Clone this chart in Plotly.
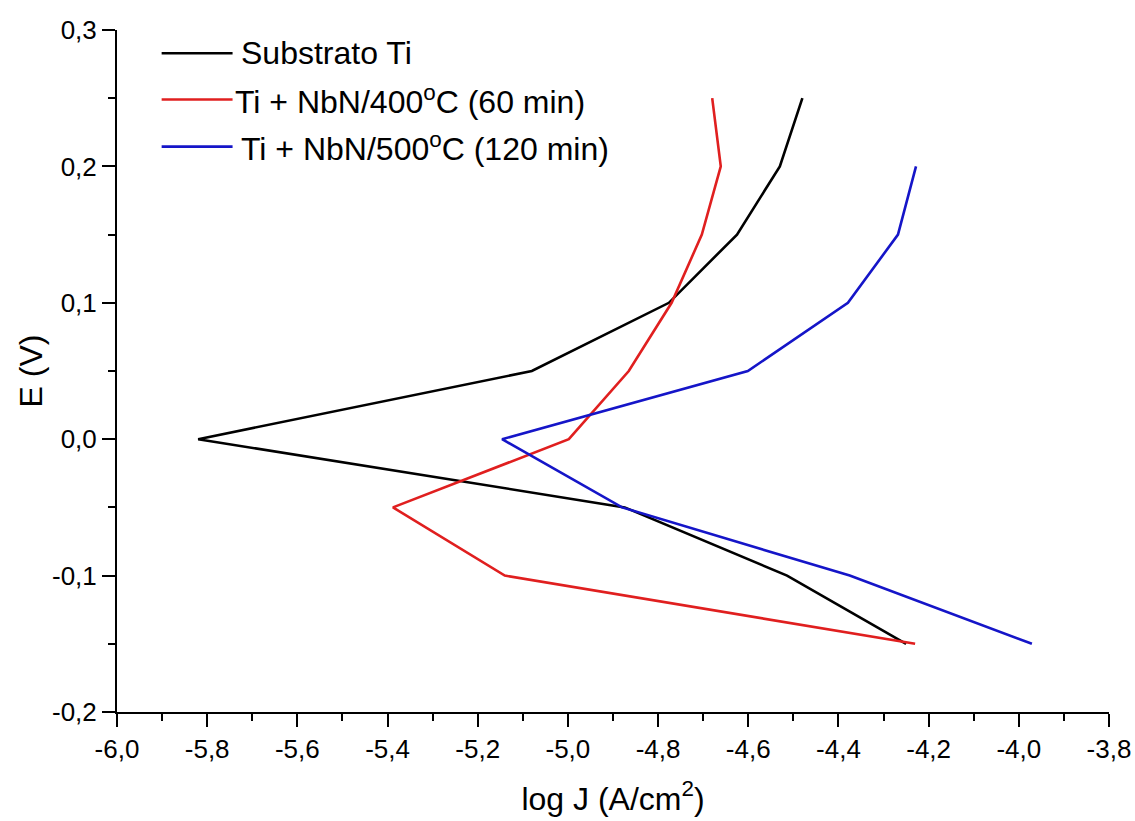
import plotly.graph_objects as go

# ---- data ----
E_ti = [0.25, 0.20, 0.15, 0.10, 0.05, 0.00, -0.05, -0.10, -0.15]
logJ_ti = [-4.48, -4.53, -4.625, -4.776, -5.08, -5.82, -4.874, -4.514, -4.25]

E_400 = [0.25, 0.20, 0.15, 0.10, 0.05, 0.00, -0.05, -0.10, -0.15]
logJ_400 = [-4.68, -4.661, -4.703, -4.77, -4.865, -4.998, -5.388, -5.14, -4.23]

E_500 = [0.20, 0.15, 0.10, 0.05, 0.00, -0.05, -0.10, -0.15]
logJ_500 = [-4.228, -4.268, -4.379, -4.601, -5.146, -4.88, -4.375, -3.971]

series_names = ["Substrato Ti",
                "Ti + NbN/400<sup>o</sup>C (60 min)",
                "Ti + NbN/500<sup>o</sup>C (120 min)"]
series_colors = ["#000000", "#e01f1f", "#1515c8"]

x_ticks = [-6.0, -5.8, -5.6, -5.4, -5.2, -5.0, -4.8, -4.6, -4.4, -4.2, -4.0, -3.8]
y_ticks = [-0.2, -0.1, 0.0, 0.1, 0.2, 0.3]
x_minor = [-5.9, -5.7, -5.5, -5.3, -5.1, -4.9, -4.7, -4.5, -4.3, -4.1, -3.9]
y_minor = [-0.15, -0.05, 0.05, 0.15, 0.25]

def lab(v):
    return f"{v:.1f}".replace(".", ",").replace("-0,0", "0,0")

FONT = "Liberation Sans, Arial, sans-serif"

fig = go.Figure()
for xs, ys, nm, col in [(logJ_ti, E_ti, series_names[0], series_colors[0]),
                        (logJ_400, E_400, series_names[1], series_colors[1]),
                        (logJ_500, E_500, series_names[2], series_colors[2])]:
    fig.add_trace(go.Scatter(x=xs, y=ys, mode="lines", name=nm,
                             line=dict(color=col, width=2.6), showlegend=False))

# custom legend (long line samples like the original)
leg_rows_y = [0.966, 0.898, 0.829]
leg_text_x = [0.1225, 0.1165, 0.1225]
for i in range(3):
    fig.add_shape(type="line", xref="paper", yref="paper",
                  x0=0.045, x1=0.1165, y0=leg_rows_y[i], y1=leg_rows_y[i],
                  line=dict(color=series_colors[i], width=2.6))
    fig.add_annotation(xref="paper", yref="paper", x=leg_text_x[i], y=leg_rows_y[i],
                       xanchor="left", yanchor="middle", showarrow=False,
                       text=series_names[i],
                       font=dict(family=FONT, size=32, color="#000"))

axis_common = dict(showline=True, linewidth=2, linecolor="#000", ticks="outside",
                   ticklen=13, tickwidth=2, tickcolor="#000", showgrid=False,
                   zeroline=False, mirror=False,
                   tickfont=dict(family=FONT, size=26, color="#000"))

fig.update_xaxes(range=[-6.0, -3.8], tickmode="array", tickvals=x_ticks,
                 ticktext=[lab(v) for v in x_ticks],
                 minor=dict(tickvals=x_minor, ticklen=7, tickwidth=2, tickcolor="#000", ticks="outside"),
                 title=dict(text="log J (A/cm<sup>2</sup>)", font=dict(family=FONT, size=32, color="#000"),
                            standoff=24),
                 **axis_common)
fig.update_yaxes(range=[-0.2, 0.3], tickmode="array", tickvals=y_ticks,
                 ticktext=[lab(v) for v in y_ticks],
                 minor=dict(tickvals=y_minor, ticklen=7, tickwidth=2, tickcolor="#000", ticks="outside"),
                 title=dict(text="E (V)", font=dict(family=FONT, size=32, color="#000"),
                            standoff=0),
                 **axis_common)

fig.update_layout(width=1135, height=821,
                  margin=dict(l=117, r=26, t=30, b=109, autoexpand=False),
                  plot_bgcolor="white", paper_bgcolor="white",
                  font=dict(family=FONT, color="#000"))

fig.write_html("out.html")
